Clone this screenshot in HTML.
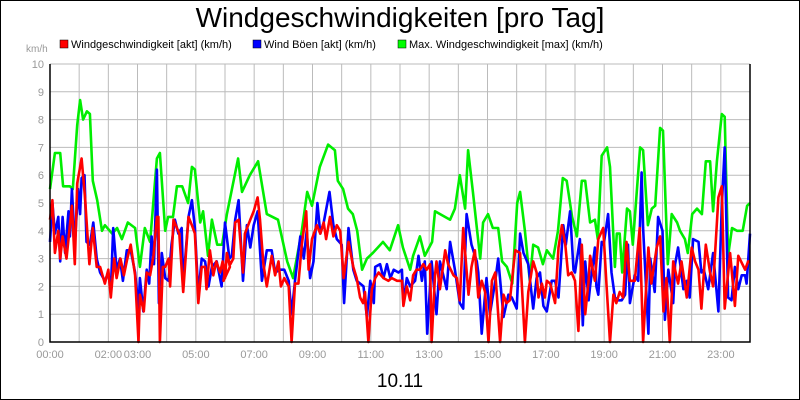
<!DOCTYPE html>
<html><head><meta charset="utf-8"><style>
body{margin:0;background:#fff}
svg{display:block;font-family:"Liberation Sans",sans-serif}
</style></head><body>
<svg id="chart" width="800" height="400">
<rect x="0.5" y="0.5" width="799" height="399" fill="#fff" stroke="#000"/>
<text x="400" y="27" font-size="28" text-anchor="middle">Windgeschwindigkeiten [pro Tag]</text>
<text x="26" y="52" font-size="10" fill="#999">km/h</text>
<g font-size="11">
<g><rect x="60" y="40" width="8" height="8" fill="#f00" stroke="#000" stroke-width="0.5"/><text x="71" y="48">Windgeschwindigkeit [akt] (km/h)</text></g>
<g><rect x="253" y="40" width="8" height="8" fill="#00f" stroke="#000" stroke-width="0.5"/><text x="264" y="48">Wind Böen [akt] (km/h)</text></g>
<g><rect x="398" y="40" width="8" height="8" fill="#0f0" stroke="#000" stroke-width="0.5"/><text x="409" y="48">Max. Windgeschwindigkeit [max] (km/h)</text></g>
</g>
<g id="grid"></g><g id="series"></g><g id="axes"></g>
<text x="400" y="387" font-size="19" text-anchor="middle">10.11</text>
</svg>
<script>
const yTicks=[0,1,2,3,4,5,6,7,8,9,10];
const xTickHours=[0,2,3,5,7,9,11,13,15,17,19,21,23];
const xTickLabels=["00:00","02:00","03:00","05:00","07:00","09:00","11:00","13:00","15:00","17:00","19:00","21:00","23:00"];
const maxMin=[0,10,21,27,41,47,56,62,68,76,82,88,97,107,113,128,138,148,160,175,185,195,206,220,226,237,243,253,261,272,284,292,298,309,315,325,333,344,354,364,387,395,411,428,446,469,488,500,518,529,539,555,572,586,592,603,613,623,632,642,652,664,685,699,716,726,741,747,761,771,786,792,823,833,843,854,860,870,885,891,901,911,922,930,940,951,961,967,977,987,994,1004,1014,1022,1035,1045,1055,1063,1074,1084,1094,1101,1111,1121,1127,1135,1146,1152,1162,1166,1172,1177,1187,1193,1199,1214,1220,1230,1238,1245,1255,1261,1271,1279,1290,1296,1306,1312,1321,1331,1341,1349,1358,1364,1372,1382,1388,1395,1403,1413,1425,1434,1440];
const maxVal=[5.5,6.8,6.8,5.6,5.6,5.5,7.8,8.7,8.0,8.3,8.2,5.8,5.1,4.0,4.2,3.9,4.1,3.7,4.3,4.1,2.7,4.1,3.6,6.6,6.8,4.0,4.5,4.5,5.6,5.6,5.0,6.3,6.2,4.3,4.7,3.1,4.4,3.5,3.5,4.6,6.6,5.4,6.0,6.5,4.6,4.4,2.9,2.3,4.0,5.4,4.9,6.3,7.1,6.9,5.8,5.5,4.8,4.6,4.0,2.6,3.0,3.2,3.6,3.3,4.2,3.4,2.6,3.1,3.8,3.1,3.6,4.7,4.4,4.8,6.0,4.8,6.9,5.4,3.0,4.3,4.6,4.1,4.1,2.9,2.7,2.1,5.0,5.4,4.0,2.2,3.5,3.4,2.8,3.3,3.0,4.0,5.9,5.8,4.5,3.8,5.8,5.8,4.3,4.4,3.7,6.7,7.0,6.3,2.7,3.9,3.9,2.5,4.8,4.7,3.5,7.0,6.9,4.2,4.8,4.9,7.7,7.6,2.8,4.6,4.3,4.0,3.7,3.2,4.6,4.8,4.6,6.5,6.5,4.7,6.5,8.2,8.1,3.1,4.1,4.0,4.0,4.9,5.0];
const aktMin=[0,5,10,17,21,26,34,45,51,56,65,72,81,88,96,103,113,120,125,132,137,145,152,159,166,175,182,185,193,199,206,213,220,223,226,232,237,244,247,254,266,274,285,292,298,305,312,319,322,329,336,342,350,355,360,364,370,
357,364,371,377,381,388,397,401,412,419,427,432,439,446,456,463,470,475,482,491,497,504,511,518,527,532,539,549,556,563,568,576,583,590,597,604,614,624,631,638,644,648,655,662,669,676,686,696,703,714,724,727,734,741,
747,754,761,768,775,782,785,792,795,802,813,819,830,837,843,850,861,867,874,881,888,895,902,909,916,926,933,939,946,957,967,977,984,994,1001,1005,1012,1018,1022,1029,1039,1046,1053,1060,1066,1073,1080,1087,1094,1101,1108,
1111,1121,1128,1138,1145,1152,1159,1165,1172,1179,1186,1193,1203,1213,1220,1231,1237,1248,1255,1262,1268,1275,1282,1292,1299,1310,1320,1327,1334,1340,1349,1358,1364,1375,1382,1388,1399,1409,1416,1430,1436,1440];
const aktVal=[4.4,5.1,3.2,4.0,3.0,3.8,3.0,4.9,2.8,5.7,6.6,5.2,2.8,4.1,2.7,2.7,2.1,2.6,1.6,3.0,2.3,3.0,2.4,3.0,3.5,2.4,0,1.7,1.1,2.5,2.4,3.1,4.5,4.5,0,2.7,2.7,3.0,2.0,4.4,3.9,1.8,4.5,4.2,3.9,1.4,2.7,2.7,1.9,3.3,2.4,2.9,2.5,2.9,2.3,3.2,2.7,
2.2,3.1,2.8,3.0,4.3,4.4,2.5,3.9,4.4,4.7,5.2,4.4,2.8,2.0,3.1,2.4,2.9,2.0,2.3,2.0,0,2.1,2.1,3.5,4.7,2.6,3.7,4.2,3.9,4.3,3.7,4.5,3.8,4.2,4.0,2.3,3.6,2.7,2.3,1.6,1.4,1.8,0,1.9,2.3,2.5,2.3,2.2,2.3,2.2,2.2,1.3,2.0,1.5,
2.4,2.6,2.6,2.8,2.6,2.8,0,2.4,2.9,1.9,3.3,2.8,2.4,2.3,1.5,4.1,1.7,2.7,3.3,1.6,2.2,1.8,0,2.2,2.5,0,1.7,1.4,1.5,3.3,3.2,0,1.8,2.9,2.5,1.6,2.1,1.6,2.2,2.1,1.4,3.4,4.2,3.5,2.4,2.5,2.2,0.4,3.5,1.0,2.2,
3.1,2.2,3.7,4.1,2.0,0,1.7,1.4,1.8,1.6,3.6,2.2,2.2,4.1,0,3.4,2.1,3.4,3.8,1.1,2.3,0,2.9,2.1,2.9,1.6,3.4,2.9,2.6,1.2,3.5,2.5,2.0,5.2,5.6,1.2,3.2,1.3,3.1,2.6,2.9,2.9];
const boeMin=[0,5,10,17,21,26,31,38,41,45,51,58,62,65,71,75,82,89,96,103,113,120,125,130,137,144,150,158,166,175,182,185,192,199,204,209,214,220,224,230,237,244,250,257,264,271,274,285,292,298,305,312,319,326,333,343,353,360,369,
374,381,388,397,405,412,419,427,436,446,456,463,473,482,491,497,504,515,522,528,535,542,550,556,563,575,583,590,600,605,614,624,631,645,652,659,666,669,679,686,693,700,707,717,724,727,734,741,
751,758,765,771,776,785,795,802,816,823,833,843,850,857,867,878,881,888,898,905,916,922,933,943,950,960,967,974,984,994,1001,1008,1015,1022,1032,1039,1046,1056,1061,1070,1077,1080,1090,1096,1101,1108,
1111,1121,1124,1128,1135,1139,1148,1155,1162,1169,1176,1183,1189,1193,1203,1210,1217,1220,1231,1235,1244,1251,1260,1265,1272,1282,1286,1292,1303,1310,1316,1323,1334,1340,1345,1354,1364,1375,1382,1388,1395,1402,1409,1416,1423,1430,1433,1440];
const boeVal=[3.6,5.0,3.9,4.5,2.9,4.5,3.2,4.7,3.8,5.5,3.5,5.5,4.6,5.9,6.0,3.6,3.5,4.3,3.0,2.5,2.2,2.5,1.8,4.1,2.6,3.0,2.2,3.3,3.3,2.5,1.2,2.3,1.1,2.6,2.1,3.8,2.8,6.2,1.4,3.2,2.3,2.2,3.5,4.4,3.9,4.1,2.1,4.5,5.1,4.1,1.7,3.0,2.9,2.0,2.7,2.9,2.0,4.3,3.0,
3.1,4.4,5.1,2.2,4.2,3.4,4.2,4.7,2.2,3.3,3.3,2.5,2.6,2.6,2.2,1.0,2.2,3.8,3.0,4.0,2.3,2.9,5.0,3.9,4.3,5.4,4.2,3.7,3.5,1.4,4.1,2.6,2.2,2.0,0.9,2.2,1.4,2.7,2.8,2.3,2.8,2.3,2.6,2.5,2.6,1.4,2.3,2.0,
2.2,3.1,2.2,2.9,0.3,2.9,1.0,2.9,1.9,3.6,2.6,1.4,1.2,4.6,3.5,2.9,2.5,0.3,2.3,1.0,2.2,3.0,0.9,1.7,1.6,1.2,3.9,3.2,2.8,1.2,2.3,2.5,1.3,1.1,2.2,2.2,1.6,4.2,3.5,4.7,2.6,2.5,3.7,0.6,2.9,1.5,2.0,
3.4,2.0,1.7,3.6,3.5,4.6,2.5,1.6,1.5,1.5,1.7,3.5,1.4,2.4,2.2,6.1,4.1,0.3,3.0,1.8,4.5,4.0,0.8,2.6,1.4,2.8,3.4,1.9,2.2,1.6,3.7,3.6,2.5,2.6,1.9,3.2,1.1,4.9,7.0,1.6,1.5,2.7,1.9,2.4,2.4,2.1,3.9,2.9];

const L=50,R=750,T=64,B=342;
const xs=m=>L+m/1440*(R-L);
const ys=v=>B-v/10*(B-T);
const NS="http://www.w3.org/2000/svg";
const mk=(p,t,a)=>{const e=document.createElementNS(NS,t);for(const k in a)e.setAttribute(k,a[k]);p.appendChild(e);return e;};
const grid=document.getElementById('grid'),series=document.getElementById('series'),axes=document.getElementById('axes');
for(let h=1;h<=24;h++){const l=mk(grid,'line',{x1:xs(h*60),x2:xs(h*60),y1:T,y2:B,stroke:'#bbb','stroke-width':1});

}
yTicks.forEach(v=>{if(v>0){const l=mk(grid,'line',{x1:L,x2:R,y1:ys(v),y2:ys(v),stroke:'#bbb','stroke-width':1});

}
const t=mk(axes,'text',{x:L-6,y:ys(v)+4,'font-size':11,fill:'#999','text-anchor':'end'});t.textContent=v;

});
xTickHours.forEach((h,i)=>{const t=mk(axes,'text',{x:xs(h*60),y:358,'font-size':11,fill:'#999','text-anchor':'middle'});t.textContent=xTickLabels[i];

});
function line(mins,vals,col,name){const d=mins.map((m,i)=>(i?'L':'M')+xs(m).toFixed(1)+','+ys(vals[i]).toFixed(1)).join('');
const p=mk(series,'path',{d:d,fill:'none',stroke:col,'stroke-width':2.6,'stroke-linejoin':'round'});

}
line(maxMin,maxVal,'#00ee00','series-max-wind');
line(boeMin,boeVal,'#0000ff','series-gusts');
line(aktMin,aktVal,'#ff0000','series-current-wind');
const ax=mk(axes,'path',{d:`M${L},${T}V${B}H${R}V${T}`,fill:'none',stroke:'#000','stroke-width':1.5});


</script>
</body></html>
